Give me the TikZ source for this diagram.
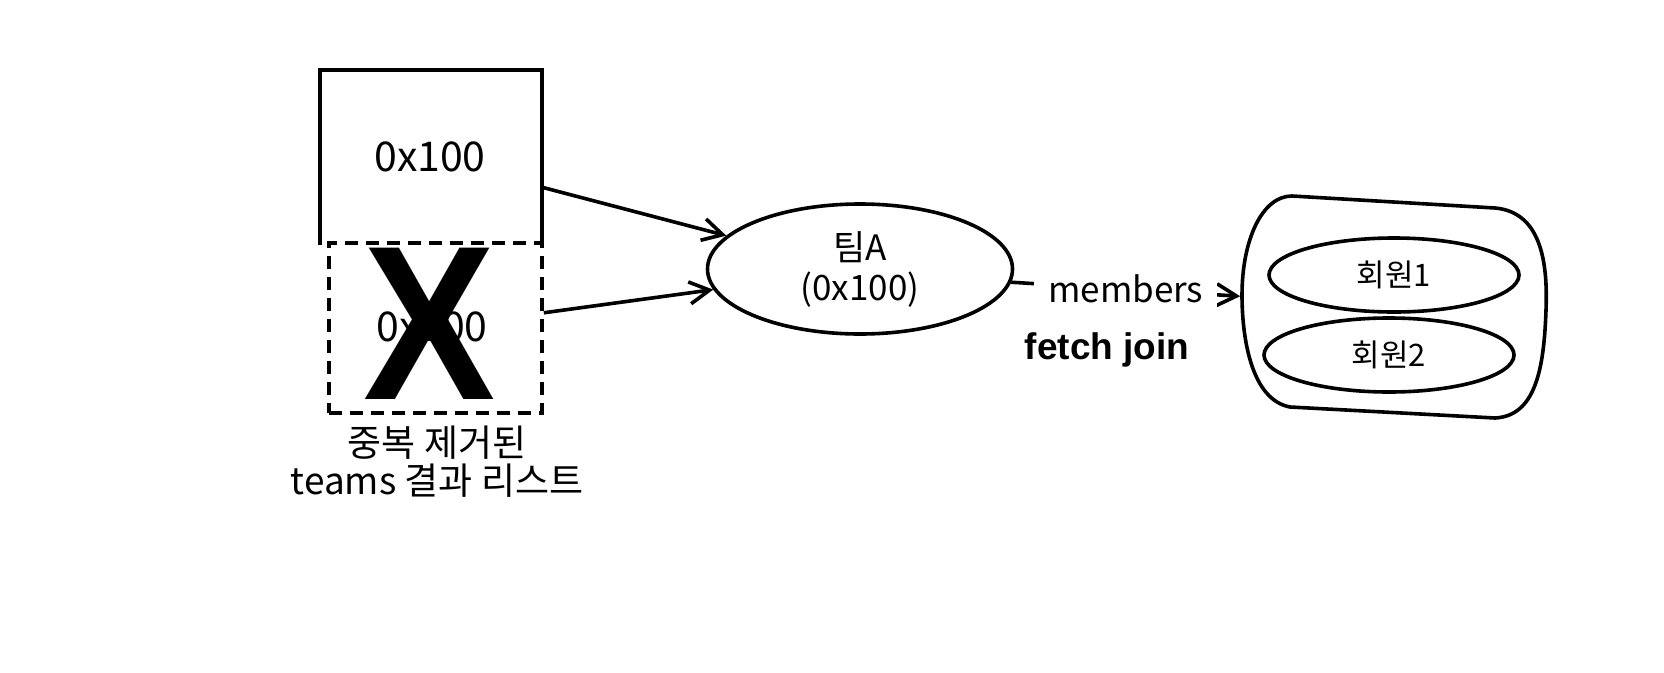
\documentclass[tikz,border=0pt]{standalone}
\usepackage{fontspec}
\setmainfont{Noto Sans CJK KR}
\newfontfamily\arialf{Liberation Sans}
\usetikzlibrary{arrows.meta,shapes.geometric}
\newcommand{\myfs}[1]{\fontsize{#1}{#1}\selectfont}
\begin{document}
\begin{tikzpicture}[x=1pt,y=-1pt, line width=3.6pt,
  box/.style={rectangle, inner sep=0pt},
  oval/.style={ellipse, draw, inner sep=0pt, align=center},
  lbl/.style={inner sep=0pt, align=center},
  conn/.style={-{Straight Barb[length=20pt,width=22pt]}, line width=3.6pt},
  dashbox/.style={draw, dash pattern=on 13pt off 8pt}]
\useasboundingbox (0,0) rectangle (1664,672);
\fill[white] (0,0) rectangle (1664,672);

% list boxes
\node[box, minimum width=218pt, minimum height=171pt] (top) at (431,157.5) {};
\draw (top.south west) -- (top.north west) -- (top.north east) -- (top.south east);
\node[box, dashbox, minimum width=213pt, minimum height=170pt] (dup) at (435.5,328) {};
\node[lbl, font=\myfs{41}] (t1) at (430,157) {0x100};
\node[lbl, font=\myfs{41}] (t2) at (432,327) {0x100};
\node[lbl, font=\arialf\bfseries\myfs{220}] (cross) at (430,324) {\scalebox{0.9}[1]{X}};
\node[lbl, font=\fontsize{37}{38}\selectfont] (cap) at (437,462) {중복 제거된\\teams 결과 리스트};

% team
\node[oval, minimum width=305pt, minimum height=130pt, font=\fontsize{35}{40}\selectfont] (teamA) at (860,269) {팀A\\(0x100)};

% container
\node[box, minimum width=304pt, minimum height=224pt] (cont) at (1394,307) {};
\draw (1292,196) -- (1495,208)
  .. controls (1540,212) and (1548,260) .. (1546,310)
  .. controls (1544,370) and (1535,416) .. (1495,418)
  -- (1290,407)
  .. controls (1252,400) and (1242,340) .. (1242,295)
  .. controls (1242,240) and (1262,196) .. (1292,196) -- cycle;
\node[oval, minimum width=250pt, minimum height=74pt, font=\myfs{31}] (m1) at (1394,275) {회원1};
\node[oval, minimum width=250pt, minimum height=74pt, font=\myfs{31}] (m2) at (1389,355) {회원2};

% connectors
\draw[conn] (top.-15.6) -- (teamA.166);
\draw[conn] (dup.8) -- (teamA.-172);
\draw[conn] (teamA.-5) -- node[fill=white, inner xsep=14pt, inner ysep=6pt, font=\myfs{35}] (mem) {members} (cont.176);
\node[lbl, font=\arialf\bfseries\myfs{37}] (fj) at (1107,350) {fetch join};
\end{tikzpicture}
\end{document}
